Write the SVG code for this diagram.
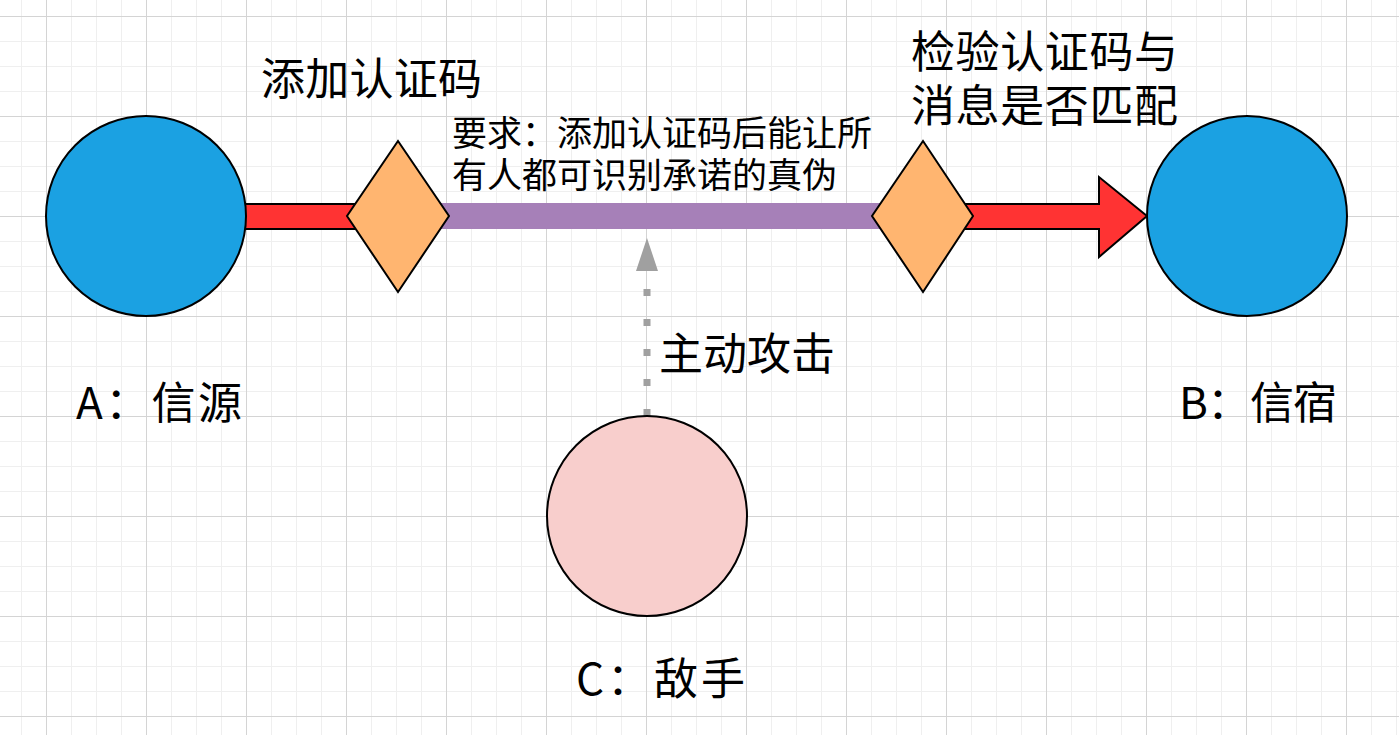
<svg xmlns="http://www.w3.org/2000/svg" width="1399" height="735" viewBox="0 0 1399 735">
<defs>
<pattern id="minor" patternUnits="userSpaceOnUse" x="21" y="16" width="25" height="25">
<path d="M0 0.5H25M0.5 0V25" fill="none" stroke="#efefef" stroke-width="1"/>
</pattern>
<pattern id="major" patternUnits="userSpaceOnUse" x="46" y="16" width="100" height="100">
<path d="M0 0.5H100M0.5 0V100" fill="none" stroke="#d4d4d4" stroke-width="1"/>
</pattern>
</defs>
<style>
.big{font-family:"Noto Sans CJK SC","Liberation Sans",sans-serif;font-size:44px;fill:#000}
.small{font-family:"Noto Sans CJK SC","Liberation Sans",sans-serif;font-size:35px;fill:#000}
.node{stroke:#000;stroke-width:2}
.blue{fill:#1BA1E2}
.pink{fill:#F8CECC}
.dia{fill:#FFB570}
.red{fill:#FF3333;stroke:#000;stroke-width:2}
</style>
<rect width="1399" height="735" fill="#fff"/>
<rect width="1399" height="735" fill="url(#minor)"/>
<rect width="1399" height="735" fill="url(#major)"/>

<g id="connectors">
<rect x="240" y="204" width="160" height="25" class="red"/>
<rect x="420" y="203" width="480" height="26" fill="#A680B8"/>
<polygon points="923,204 1099,204 1099,177 1147,216 1099,257 1099,229 923,229" class="red"/>
<path d="M647 416V271" fill="none" stroke="#A0A0A0" stroke-width="7" stroke-dasharray="7 23"/>
<polygon points="647,238 658,271 636,271" fill="#A0A0A0"/>
</g>

<g id="nodeA"><circle cx="146" cy="216" r="100" class="node blue"/></g>
<g id="nodeB"><circle cx="1247" cy="216" r="100" class="node blue"/></g>
<g id="nodeC"><circle cx="647" cy="516" r="100" class="node pink"/></g>
<g id="diamond1"><polygon points="398,141 449,216 398,292 347,216" class="node dia"/></g>
<g id="diamond2"><polygon points="923,141 973,216 923,292 872,216" class="node dia"/></g>

<g id="labels">
<text class="big" x="261" y="95" textLength="221" lengthAdjust="spacing">添加认证码</text>
<text class="big"><tspan x="911" y="68" textLength="267" lengthAdjust="spacing">检验认证码与</tspan><tspan x="911" y="122" textLength="267" lengthAdjust="spacing">消息是否匹配</tspan></text>
<text class="small"><tspan x="452" y="146">要求：添加认证码后能让所</tspan><tspan x="452" y="188">有人都可识别承诺的真伪</tspan></text>
<text class="big" x="659" y="370">主动攻击</text>
<text class="big" x="76" y="419" textLength="166" lengthAdjust="spacing">A：信源</text>
<text class="big" x="1179" y="419" textLength="158" lengthAdjust="spacing">B：信宿</text>
<text class="big" x="576" y="695" textLength="169" lengthAdjust="spacing">C：敌手</text>
</g>
</svg>
